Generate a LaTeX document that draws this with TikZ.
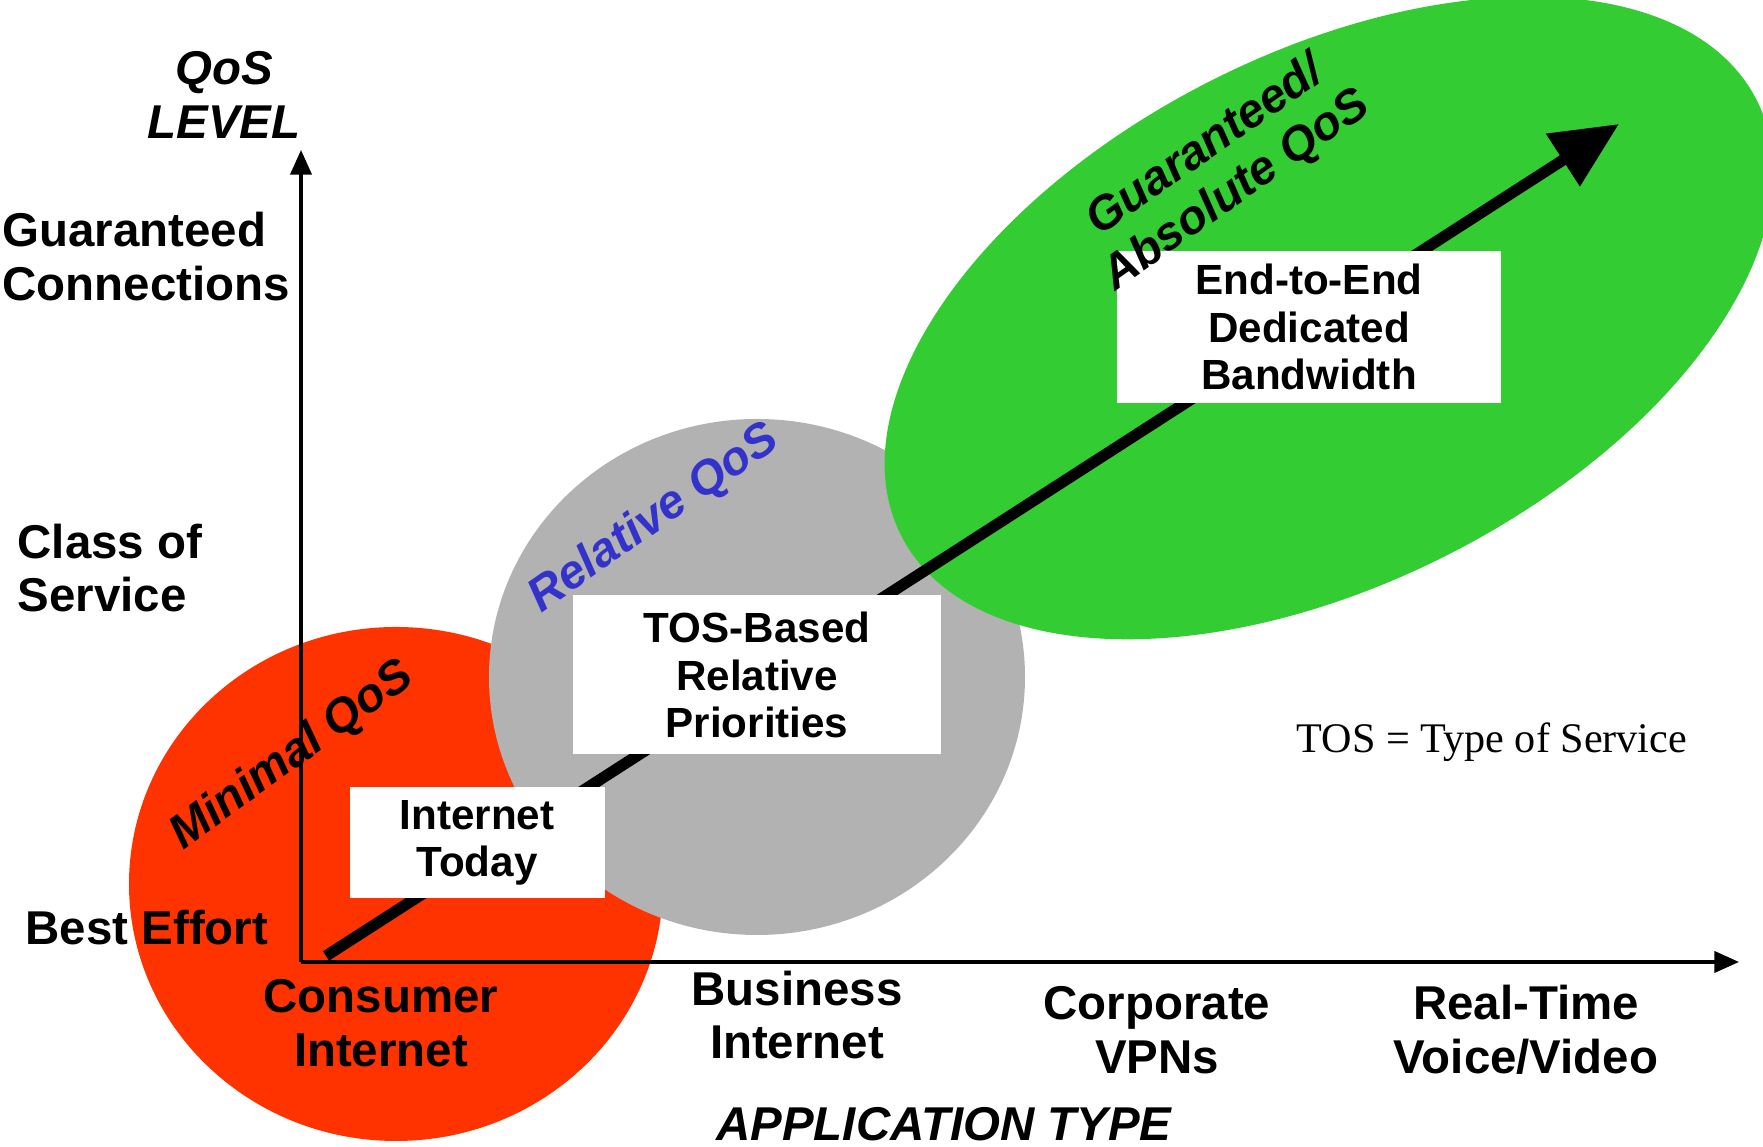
\documentclass[tikz,border=0pt]{standalone}
\usepackage{fontspec}
\setmainfont{Liberation Serif}
\setsansfont{Liberation Sans}
\usetikzlibrary{arrows.meta}
\definecolor{minred}{HTML}{FF3300}
\definecolor{relgray}{HTML}{B2B2B2}
\definecolor{absgreen}{HTML}{33CC33}
\definecolor{relblue}{HTML}{3333CC}
\begin{document}
\begin{tikzpicture}[
  axislabel/.style={font=\sffamily\bfseries\fontsize{13.5}{15.2}\selectfont, align=center, inner sep=0pt},
  boxlabel/.style={fill=white, font=\sffamily\bfseries\fontsize{12}{13.4}\selectfont, align=center, inner sep=0pt},
  zonelabel/.style={font=\sffamily\bfseries\itshape\fontsize{13.5}{15.2}\selectfont, align=center, inner sep=0pt}]
  \useasboundingbox (0,0) rectangle (17.63,11.47);
  % the three QoS zones
  \begin{scope}
  \clip (0,0) rectangle (17.63,11.47);
  \fill[minred] (3.96,2.63) ellipse [x radius=2.67, y radius=2.57];
  \fill[relgray] (7.57,4.70) ellipse [x radius=2.68, y radius=2.58];
  \fill[absgreen, rotate around={27:(13.29,8.29)}] (13.29,8.29) ellipse [x radius=4.8, y radius=2.65];
  \end{scope}
  % axes
  \coordinate (origin) at (3.01,1.85);
  \coordinate (ytop) at (3.01,9.97);
  \coordinate (xend) at (17.39,1.85);
  \draw[line width=1pt,-{Triangle[length=7pt,width=6pt]}] (origin) -- (ytop);
  \draw[line width=1pt,-{Triangle[length=7pt,width=6pt]}] (origin) -- (xend);
  % growth arrow
  \coordinate (start) at (3.26,1.91);
  \coordinate (tip) at (16.19,10.23);
  \draw[line width=3.2pt,-{Triangle[length=19pt,width=17pt]}] (start) -- (tip);
  % boxes on the arrow
  \node[boxlabel, minimum width=2.55cm, minimum height=1.11cm] (today) at (4.77,3.04) {Internet\\Today};
  \node[boxlabel, minimum width=3.68cm, minimum height=1.59cm] (tosbased) at (7.57,4.72) {TOS-Based\\Relative\\Priorities};
  \node[boxlabel, minimum width=3.84cm, minimum height=1.52cm] (endtoend) at (13.09,8.20) {End-to-End\\Dedicated\\Bandwidth};
  % zone names
  \node[zonelabel, rotate=36] (minimal) at (2.92,3.91) {Minimal QoS};
  \node[zonelabel, rotate=35, text=relblue] (relative) at (6.54,6.28) {Relative QoS};
  \node[zonelabel, rotate=35] (absolute) at (12.21,9.78) {Guaranteed/\\Absolute QoS};
  % y axis levels
  \node[zonelabel] (qoslevel) at (2.24,10.52) {QoS\\LEVEL};
  \node[axislabel, anchor=west, align=left] (guaranteed) at (0.02,8.905) {Guaranteed\\Connections};
  \node[axislabel, anchor=west, align=left] (classof) at (0.17,5.79) {Class of\\Service};
  \node[axislabel, anchor=west] (besteffort) at (0.25,2.19) {Best Effort};
  % x axis applications
  \node[axislabel] (consumer) at (3.81,1.24) {Consumer\\Internet};
  \node[axislabel] (business) at (7.97,1.32) {Business\\Internet};
  \node[axislabel] (corporate) at (11.57,1.17) {Corporate\\VPNs};
  \node[axislabel] (realtime) at (15.26,1.17) {Real-Time\\Voice/Video};
  \node[zonelabel] (apptype) at (9.44,0.23) {APPLICATION TYPE};
  \node[font=\rmfamily\fontsize{12}{14}\selectfont, inner sep=0pt] (tosnote) at (14.92,4.05) {TOS = Type of Service};
\end{tikzpicture}
\end{document}
